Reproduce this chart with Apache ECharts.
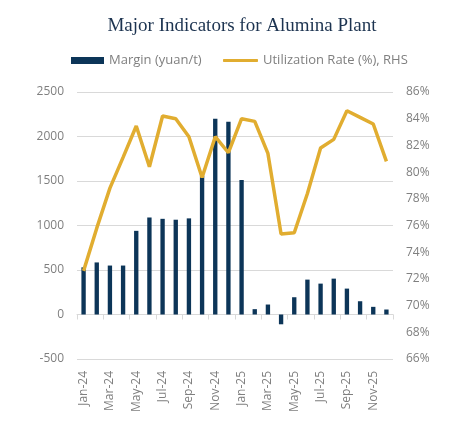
<!DOCTYPE html>
<html>
<head>
<meta charset="utf-8">
<script src="https://cdn.jsdelivr.net/npm/echarts@6/dist/echarts.min.js"></script>
<style>
html,body{margin:0;padding:0;background:#fff;}
#chart{width:464px;height:425px;}
</style>
</head>
<body>
<div id="chart"></div>
<script>
const months = ['Jan-24','Feb-24','Mar-24','Apr-24','May-24','Jun-24','Jul-24','Aug-24','Sep-24','Oct-24','Nov-24','Dec-24',
                'Jan-25','Feb-25','Mar-25','Apr-25','May-25','Jun-25','Jul-25','Aug-25','Sep-25','Oct-25','Nov-25','Dec-25'];
const margin = [530, 585, 550, 550, 940, 1090, 1075, 1065, 1080, 1560, 2200, 2165,
                1510, 60, 112, -110, 194, 392, 347, 403, 291, 149, 86, 56];
const utilization = [72.6, 75.8, 78.8, 81.1, 83.45, 80.4, 84.2, 84.0, 82.65, 79.6, 82.65, 81.45,
                     84.0, 83.8, 81.4, 75.36, 75.46, 78.4, 81.8, 82.45, 84.6, 84.1, 83.6, 80.8];
const leftTicks = {min: -500, max: 2500, interval: 500};
const rightTicks = {min: 66, max: 86, interval: 2};

const labelColor = '#7f7f7f';
const gridColor = '#d9d9d9';
const chart = echarts.init(document.getElementById('chart'));
chart.setOption({
  animation: false,
  title: {
    text: 'Major Indicators for Alumina Plant',
    left: 237, top: 12, textAlign: 'center',
    textStyle: {fontFamily: 'Liberation Serif', fontSize: 19, fontWeight: 'normal', color: '#1c3350'}
  },
  legend: [
    {data: ['Margin (yuan/t)'], left: 71, top: 54, padding: 0, icon: 'rect', itemWidth: 33, itemHeight: 7,
     textStyle: {fontFamily: 'Open Sans', fontSize: 13, color: labelColor}},
    {data: ['Utilization Rate (%), RHS'], left: 223, top: 54, padding: 0, icon: 'roundRect', itemWidth: 35, itemHeight: 3,
     textStyle: {fontFamily: 'Open Sans', fontSize: 13, color: labelColor}}
  ],
  grid: {left: 77, right: 71, top: 92, bottom: 66, containLabel: false},
  xAxis: [
    {type: 'category', data: months, position: 'bottom',
     axisLine: {onZero: true, onZeroAxisIndex: 0, lineStyle: {color: gridColor}},
     axisTick: {show: true, interval: 1, length: 5, lineStyle: {color: gridColor}},
     axisLabel: {show: false}},
    {type: 'category', data: months, position: 'bottom',
     axisLine: {show: false, onZero: false}, axisTick: {show: false},
     axisLabel: {show: true, interval: 1, rotate: 90, margin: 12, fontFamily: 'Open Sans', fontSize: 12, color: labelColor}}
  ],
  yAxis: [
    {type: 'value', min: leftTicks.min, max: leftTicks.max, interval: leftTicks.interval,
     axisLine: {show: false}, axisTick: {show: false},
     axisLabel: {margin: 13, formatter: v => String(v), fontFamily: 'Open Sans', fontSize: 12, color: labelColor},
     splitLine: {lineStyle: {color: gridColor, width: 1}}},
    {type: 'value', min: rightTicks.min, max: rightTicks.max, interval: rightTicks.interval, position: 'right',
     axisLine: {show: false}, axisTick: {show: false},
     axisLabel: {margin: 13, formatter: v => v + '%', fontFamily: 'Open Sans', fontSize: 12, color: labelColor},
     splitLine: {show: false}}
  ],
  series: [
    {name: 'Margin (yuan/t)', type: 'bar', data: margin, xAxisIndex: 0, yAxisIndex: 0,
     barWidth: '33%', itemStyle: {color: '#0c3558'}, z: 2},
    {name: 'Utilization Rate (%), RHS', type: 'line', data: utilization, xAxisIndex: 0, yAxisIndex: 1,
     symbol: 'none', showSymbol: false, lineStyle: {color: '#e1ad30', width: 3.5}, itemStyle: {color: '#e1ad30'}, z: 3}
  ]
});
</script>
</body>
</html>
